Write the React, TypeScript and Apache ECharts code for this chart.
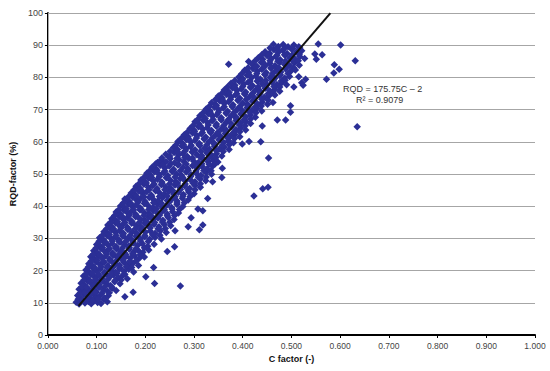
import React, { useEffect, useRef } from "react";
import * as echarts from "echarts";

// [C factor, RQD factor %]
const lowerBand: number[][] = [
  [0.058,10.2],[0.064,9.6],[0.070,10.8],[0.076,9.9],[0.083,10.4],[0.089,9.7],[0.095,10.6],[0.102,10.1],[0.109,9.8],[0.122,10.3],[0.115,11.0],
  [0.061,12.3],[0.067,11.6],[0.073,12.8],[0.080,12.0],[0.087,11.4],[0.094,12.6],[0.100,11.8],[0.108,12.4],[0.116,11.5],[0.124,12.2],
  [0.064,14.2],[0.071,13.6],[0.078,14.7],[0.085,13.9],[0.092,14.4],[0.099,13.5],[0.106,14.8],[0.114,14.0],[0.122,13.7],[0.132,14.5],[0.140,13.8],
  [0.068,16.1],[0.075,15.5],[0.082,16.7],[0.090,15.8],[0.097,16.4],[0.105,15.6],[0.112,16.8],[0.120,16.0],[0.128,15.4],[0.137,16.5],[0.148,15.9],
  [0.073,18.3],[0.080,17.7],[0.088,18.8],[0.096,17.9],[0.103,18.5],[0.111,17.6],[0.119,18.9],[0.127,18.0],[0.135,18.6],[0.144,17.8],[0.153,18.4],[0.163,17.5],
  [0.078,20.2],[0.085,19.6],[0.093,20.7],[0.100,19.9],[0.108,20.5],[0.116,19.4],[0.124,20.8],[0.131,20.0],[0.139,19.5],[0.147,20.6],[0.156,19.8],[0.166,20.4],[0.176,19.6],
  [0.084,22.1],[0.091,21.6],[0.099,22.7],[0.107,21.9],[0.115,22.5],[0.123,21.5],[0.131,22.8],[0.139,22.0],[0.147,21.7],[0.156,22.6],[0.165,21.8],[0.175,22.3],[0.186,21.6],
  [0.088,24.3],[0.095,23.7],[0.103,24.6],[0.111,23.9],[0.119,24.5],[0.127,23.6],[0.135,24.8],[0.143,24.0],[0.152,23.5],[0.160,24.4],[0.169,23.8],[0.178,24.6],[0.188,23.9],[0.198,24.2],
  [0.094,26.2],[0.101,25.6],[0.109,26.8],[0.117,25.9],[0.125,26.5],[0.133,25.5],[0.141,26.7],[0.150,26.0],[0.158,25.4],[0.167,26.6],[0.176,25.8],[0.185,26.3],[0.195,25.7],[0.207,26.4],
  [0.100,28.1],[0.108,27.6],[0.116,28.7],[0.124,27.9],[0.132,28.4],[0.140,27.5],[0.148,28.8],[0.157,28.0],[0.166,27.7],[0.175,28.6],[0.184,27.8],[0.194,28.3],[0.205,27.6],[0.218,28.2],
];

const middleBand: number[][] = [
  [0.106,30.2],[0.114,29.6],[0.122,30.8],[0.130,29.9],[0.138,30.4],[0.146,29.5],[0.154,30.7],[0.163,30.0],[0.172,29.6],[0.181,30.6],[0.190,29.8],[0.199,30.5],[0.209,29.7],[0.220,30.3],[0.233,29.8],
  [0.115,32.1],[0.123,31.5],[0.131,32.7],[0.139,31.8],[0.147,32.4],[0.155,31.6],[0.164,32.8],[0.173,32.0],[0.182,31.7],[0.191,32.6],[0.200,31.9],[0.210,32.3],[0.220,31.6],[0.231,32.4],[0.243,31.8],
  [0.123,34.2],[0.131,33.6],[0.139,34.8],[0.147,33.9],[0.155,34.5],[0.163,33.5],[0.172,34.7],[0.181,34.0],[0.190,33.7],[0.199,34.6],[0.208,33.8],[0.218,34.4],[0.228,33.6],[0.239,34.3],[0.252,33.9],
  [0.131,36.1],[0.139,35.6],[0.147,36.8],[0.155,35.9],[0.163,36.4],[0.171,35.5],[0.180,36.7],[0.189,36.0],[0.198,35.7],[0.207,36.6],[0.216,35.8],[0.226,36.3],[0.236,35.6],[0.247,36.5],[0.259,35.9],
  [0.140,38.2],[0.148,37.6],[0.156,38.7],[0.164,37.9],[0.172,38.5],[0.180,37.5],[0.189,38.8],[0.198,38.0],[0.207,37.7],[0.216,38.6],[0.225,37.8],[0.235,38.4],[0.245,37.6],[0.256,38.3],[0.268,37.9],
  [0.149,40.1],[0.157,39.6],[0.165,40.7],[0.173,39.9],[0.181,40.4],[0.189,39.5],[0.198,40.8],[0.207,40.0],[0.216,39.6],[0.225,40.6],[0.234,39.8],[0.244,40.3],[0.254,39.6],[0.265,40.5],[0.277,39.9],
  [0.158,42.2],[0.166,41.6],[0.174,42.8],[0.182,41.9],[0.190,42.4],[0.199,41.5],[0.208,42.7],[0.217,42.0],[0.226,41.7],[0.235,42.6],[0.245,41.8],[0.255,42.3],[0.265,41.6],[0.276,42.5],[0.288,41.9],
  [0.171,44.1],[0.179,43.6],[0.187,44.7],[0.195,43.9],[0.203,44.5],[0.212,43.5],[0.221,44.8],[0.230,44.0],[0.239,43.7],[0.248,44.6],[0.258,43.8],[0.268,44.3],[0.278,43.6],[0.289,44.4],[0.300,43.9],
  [0.181,46.2],[0.189,45.6],[0.197,46.8],[0.206,45.9],[0.215,46.4],[0.224,45.5],[0.233,46.7],[0.242,46.0],[0.251,45.7],[0.261,46.6],[0.271,45.8],[0.281,46.3],[0.291,45.6],[0.302,46.4],[0.313,45.9],
  [0.191,48.1],[0.199,47.6],[0.207,48.7],[0.216,47.9],[0.225,48.4],[0.234,47.5],[0.243,48.8],[0.252,48.0],[0.262,47.7],[0.272,48.6],[0.282,47.8],[0.292,48.3],[0.302,47.6],[0.313,48.5],[0.324,47.9],
  [0.203,50.2],[0.211,49.6],[0.219,50.7],[0.228,49.9],[0.237,50.4],[0.246,49.5],[0.255,50.8],[0.264,50.0],[0.274,49.6],[0.284,50.6],[0.294,49.8],[0.304,50.3],[0.314,49.6],[0.325,50.5],[0.336,49.9],
  [0.214,52.1],[0.222,51.6],[0.231,52.7],[0.240,51.9],[0.249,52.5],[0.258,51.5],[0.267,52.8],[0.277,52.0],[0.287,51.7],[0.297,52.6],[0.307,51.8],[0.317,52.3],[0.327,51.6],[0.338,52.4],
  [0.225,53.6],[0.233,54.4],[0.242,53.8],[0.251,54.7],[0.260,53.5],[0.269,54.5],[0.279,53.9],[0.289,54.8],[0.299,54.0],[0.309,53.6],[0.319,54.6],[0.329,53.8],[0.339,54.3],[0.349,53.7],
  [0.242,56.1],[0.250,55.6],[0.259,56.7],[0.268,55.9],[0.277,56.4],[0.286,55.5],[0.296,56.8],[0.306,56.0],[0.316,55.7],[0.326,56.6],[0.336,55.8],[0.346,56.3],[0.357,55.6],
  [0.258,58.2],[0.266,57.6],[0.275,58.7],[0.284,57.9],[0.293,58.5],[0.302,57.5],[0.312,58.8],[0.322,58.0],[0.332,57.7],[0.342,58.6],[0.352,57.8],[0.362,58.3],[0.372,57.6],
];

const upperBand: number[][] = [
  [0.267,60.1],[0.275,59.6],[0.284,60.7],[0.293,59.9],[0.302,60.4],[0.311,59.5],[0.321,60.8],[0.331,60.0],[0.341,59.6],[0.351,60.6],[0.361,59.8],[0.371,60.3],[0.381,59.7],
  [0.280,62.2],[0.288,61.6],[0.297,62.7],[0.306,61.9],[0.315,62.5],[0.324,61.5],[0.334,62.8],[0.344,62.0],[0.354,61.7],[0.364,62.6],[0.374,61.8],[0.384,62.3],[0.394,61.6],
  [0.292,64.1],[0.300,63.6],[0.309,64.7],[0.318,63.9],[0.327,64.4],[0.336,63.5],[0.346,64.8],[0.356,64.0],[0.366,63.7],[0.376,64.6],[0.386,63.8],[0.396,64.3],[0.406,63.7],
  [0.302,66.2],[0.310,65.6],[0.319,66.7],[0.328,65.9],[0.337,66.5],[0.346,65.5],[0.356,66.8],[0.366,66.0],[0.376,65.7],[0.386,66.6],[0.396,65.8],[0.406,66.3],[0.416,65.7],
  [0.312,68.1],[0.320,67.6],[0.329,68.7],[0.338,67.9],[0.347,68.4],[0.356,67.5],[0.366,68.8],[0.376,68.0],[0.386,67.7],[0.396,68.6],[0.406,67.8],[0.416,68.3],[0.426,67.6],
  [0.325,70.2],[0.333,69.6],[0.342,70.7],[0.351,69.9],[0.360,70.5],[0.369,69.5],[0.379,70.8],[0.389,70.0],[0.399,69.7],[0.409,70.6],[0.419,69.8],[0.429,70.3],[0.439,69.6],
  [0.336,72.1],[0.344,71.6],[0.353,72.7],[0.362,71.9],[0.371,72.4],[0.380,71.5],[0.390,72.8],[0.400,72.0],[0.410,71.7],[0.420,72.6],[0.430,71.8],[0.440,72.3],[0.451,71.7],
  [0.350,74.2],[0.358,73.6],[0.367,74.7],[0.376,73.9],[0.385,74.5],[0.394,73.5],[0.404,74.8],[0.414,74.0],[0.424,73.7],[0.434,74.6],[0.444,73.8],[0.454,74.3],
  [0.362,76.1],[0.370,75.6],[0.379,76.7],[0.388,75.9],[0.397,76.4],[0.406,75.5],[0.416,76.8],[0.426,76.0],[0.436,75.7],[0.446,76.6],[0.456,75.8],[0.466,76.3],[0.476,75.7],
  [0.376,78.2],[0.384,77.6],[0.393,78.7],[0.402,77.9],[0.411,78.5],[0.420,77.5],[0.430,78.8],[0.440,78.0],[0.450,77.7],[0.460,78.6],[0.470,77.8],[0.480,78.3],[0.490,77.7],
  [0.392,80.1],[0.400,79.6],[0.409,80.7],[0.418,79.9],[0.427,80.4],[0.436,79.5],[0.446,80.8],[0.456,80.0],[0.466,79.7],[0.476,80.6],[0.486,79.8],[0.496,80.3],
  [0.404,82.2],[0.412,81.6],[0.421,82.7],[0.430,81.9],[0.439,82.5],[0.448,81.5],[0.458,82.8],[0.468,82.0],[0.478,81.7],[0.488,82.6],[0.498,81.8],[0.508,82.3],
  [0.420,84.0],[0.429,83.5],[0.438,84.6],[0.447,83.8],[0.456,84.4],[0.466,83.6],[0.476,84.7],[0.486,84.0],[0.496,83.7],[0.506,84.5],[0.516,83.8],
  [0.432,86.1],[0.441,85.6],[0.450,86.7],[0.459,85.9],[0.468,86.4],[0.477,85.5],[0.487,86.8],[0.497,86.0],[0.507,85.7],[0.517,86.5],[0.527,85.9],
  [0.446,88.0],[0.455,87.5],[0.464,88.6],[0.473,87.8],[0.482,88.4],[0.491,87.4],[0.501,88.7],[0.511,87.9],[0.521,88.3],
  [0.463,90.3],[0.473,89.6],[0.483,90.2],[0.493,89.5],[0.505,90.1],[0.515,89.5],
];

// points lying between the rows above, in the dense core of the cloud
const coreFill: number[][] = [
  [0.062,11.1],[0.071,10.9],[0.081,11.3],[0.092,10.8],[0.104,11.2],
  [0.066,13.0],[0.076,13.3],[0.088,12.9],[0.098,13.2],[0.111,13.0],[0.126,13.1],
  [0.070,15.0],[0.080,14.8],[0.093,15.2],[0.104,14.9],[0.117,15.1],[0.131,14.9],
  [0.074,17.1],[0.086,16.9],[0.098,17.2],[0.109,17.0],[0.123,17.2],[0.138,16.9],[0.150,17.1],
  [0.079,19.0],[0.091,19.2],[0.104,18.9],[0.117,19.1],[0.130,19.0],[0.142,19.2],[0.158,18.9],
  [0.083,21.1],[0.096,20.9],[0.109,21.2],[0.121,21.0],[0.134,21.1],[0.148,20.9],[0.161,21.2],[0.172,21.0],
  [0.089,23.0],[0.101,23.2],[0.114,22.9],[0.127,23.1],[0.140,23.0],[0.154,23.2],[0.168,22.9],[0.182,23.1],
  [0.093,25.1],[0.106,24.9],[0.120,25.2],[0.133,25.0],[0.146,25.1],[0.160,24.9],[0.174,25.2],[0.190,25.0],
  [0.099,27.0],[0.112,27.2],[0.126,26.9],[0.139,27.1],[0.153,27.0],[0.167,27.2],[0.181,26.9],[0.198,27.1],
  [0.105,29.1],[0.118,28.9],[0.132,29.2],[0.146,29.0],[0.160,29.1],[0.175,28.9],[0.190,29.2],[0.206,29.0],
  [0.112,31.0],[0.126,31.2],[0.140,30.9],[0.154,31.1],[0.169,31.0],[0.184,31.2],[0.199,30.9],[0.215,31.1],[0.230,31.0],
  [0.121,33.1],[0.135,32.9],[0.150,33.2],[0.165,33.0],[0.180,33.1],[0.195,32.9],[0.210,33.2],[0.226,33.0],[0.241,33.1],
  [0.129,35.0],[0.143,35.2],[0.158,34.9],[0.173,35.1],[0.188,35.0],[0.203,35.2],[0.219,34.9],[0.235,35.1],[0.250,35.0],
  [0.137,37.1],[0.152,36.9],[0.167,37.2],[0.182,37.0],[0.197,37.1],[0.213,36.9],[0.229,37.2],[0.245,37.0],[0.260,37.1],
  [0.146,39.0],[0.161,39.2],[0.176,38.9],[0.191,39.1],[0.207,39.0],[0.223,39.2],[0.239,38.9],[0.255,39.1],[0.270,39.0],
  [0.155,41.1],[0.170,40.9],[0.185,41.2],[0.201,41.0],[0.217,41.1],[0.233,40.9],[0.249,41.2],[0.265,41.0],[0.280,41.1],
  [0.166,43.0],[0.181,43.2],[0.197,42.9],[0.213,43.1],[0.229,43.0],[0.245,43.2],[0.261,42.9],[0.277,43.1],[0.292,43.0],
  [0.177,45.1],[0.192,44.9],[0.208,45.2],[0.224,45.0],[0.240,45.1],[0.256,44.9],[0.272,45.2],[0.288,45.0],[0.302,45.1],
  [0.187,47.0],[0.202,47.2],[0.218,46.9],[0.234,47.1],[0.250,47.0],[0.266,47.2],[0.282,46.9],[0.298,47.1],[0.313,47.0],
  [0.198,49.1],[0.213,48.9],[0.229,49.2],[0.245,49.0],[0.261,49.1],[0.277,48.9],[0.293,49.2],[0.309,49.0],[0.325,49.1],
  [0.209,51.0],[0.224,51.2],[0.240,50.9],[0.256,51.1],[0.272,51.0],[0.288,51.2],[0.304,50.9],[0.320,51.1],[0.335,51.0],
  [0.221,53.1],[0.236,52.9],[0.252,53.2],[0.268,53.0],[0.284,53.1],[0.300,52.9],[0.316,53.2],[0.331,53.0],[0.343,53.1],
  [0.234,55.0],[0.249,55.2],[0.265,54.9],[0.281,55.1],[0.297,55.0],[0.313,55.2],[0.329,54.9],[0.345,55.1],
  [0.251,57.1],[0.266,56.9],[0.282,57.2],[0.298,57.0],[0.314,57.1],[0.330,56.9],[0.346,57.2],[0.360,57.0],
  [0.263,59.0],[0.278,59.2],[0.294,58.9],[0.310,59.1],[0.326,59.0],[0.342,59.2],[0.358,58.9],[0.372,59.1],
  [0.274,61.1],[0.289,60.9],[0.305,61.2],[0.321,61.0],[0.337,61.1],[0.353,60.9],[0.369,61.2],[0.383,61.0],
  [0.286,63.0],[0.301,63.2],[0.317,62.9],[0.333,63.1],[0.349,63.0],[0.365,63.2],[0.381,62.9],[0.394,63.1],
  [0.298,65.1],[0.313,64.9],[0.329,65.2],[0.345,65.0],[0.361,65.1],[0.377,64.9],[0.393,65.2],[0.405,65.0],
  [0.308,67.0],[0.323,67.2],[0.339,66.9],[0.355,67.1],[0.371,67.0],[0.387,67.2],[0.403,66.9],[0.416,67.1],
  [0.319,69.1],[0.334,68.9],[0.350,69.2],[0.366,69.0],[0.382,69.1],[0.398,68.9],[0.414,69.2],[0.427,69.0],
  [0.331,71.0],[0.346,71.2],[0.362,70.9],[0.378,71.1],[0.394,71.0],[0.410,71.2],[0.426,70.9],[0.438,71.1],
  [0.344,73.1],[0.359,72.9],[0.375,73.2],[0.391,73.0],[0.407,73.1],[0.423,72.9],[0.439,73.2],[0.452,73.0],
  [0.357,75.0],[0.372,75.2],[0.388,74.9],[0.404,75.1],[0.420,75.0],[0.436,75.2],[0.452,74.9],[0.463,75.1],
  [0.369,77.1],[0.384,76.9],[0.400,77.2],[0.416,77.0],[0.432,77.1],[0.448,76.9],[0.464,77.2],[0.476,77.0],
  [0.384,79.0],[0.399,79.2],[0.415,78.9],[0.431,79.1],[0.447,79.0],[0.463,79.2],[0.479,78.9],[0.487,79.1],
  [0.398,81.1],[0.413,80.9],[0.429,81.2],[0.445,81.0],[0.461,81.1],[0.477,80.9],[0.493,81.2],
  [0.411,83.0],[0.426,83.2],[0.442,82.9],[0.458,83.1],[0.474,83.0],[0.490,83.2],[0.505,82.9],
  [0.425,85.1],[0.440,84.9],[0.456,85.2],[0.472,85.0],[0.488,85.1],[0.504,84.9],[0.514,85.2],
  [0.439,87.0],[0.454,87.2],[0.470,86.9],[0.486,87.1],[0.502,87.0],[0.516,87.2],
  [0.456,89.1],[0.471,88.9],[0.487,89.2],[0.503,89.0],[0.517,89.1],
];

const outliers: number[][] = [
  [0.158,11.9],[0.175,13.3],[0.219,16.0],[0.272,15.2],[0.201,18.1],[0.217,21.0],
  [0.245,25.9],[0.260,27.4],[0.261,32.4],[0.311,32.7],[0.288,33.6],[0.318,34.2],
  [0.294,36.4],[0.308,39.1],[0.318,38.6],[0.328,42.4],[0.423,43.2],[0.338,47.6],
  [0.441,45.4],[0.452,45.9],[0.357,48.9],[0.358,51.8],[0.453,55.0],[0.399,59.3],
  [0.413,60.1],[0.437,60.0],[0.440,64.9],[0.635,64.7],[0.471,66.8],[0.488,66.8],
  [0.498,69.2],[0.498,71.2],[0.462,72.2],[0.466,74.5],[0.505,77.0],[0.524,77.6],
  [0.521,78.3],[0.515,80.2],[0.529,79.4],[0.572,79.4],[0.587,81.4],[0.598,82.5],
  [0.371,84.1],[0.412,84.9],[0.588,83.9],[0.551,85.6],[0.631,85.2],[0.548,87.3],
  [0.563,87.0],[0.555,90.4],[0.601,90.1],
];

const trendC = [0.063, 0.58];
const slope = 175.75;
const intercept = -2;

const xTickLabels = ["0.000","0.100","0.200","0.300","0.400","0.500","0.600","0.700","0.800","0.900","1.000"];

export default function App() {
  const ref = useRef<HTMLDivElement>(null);
  useEffect(() => {
    if (!ref.current) return;
    const chart = echarts.init(ref.current, null, { renderer: "svg" });
    const font = "'Liberation Sans', Arial, sans-serif";
    const allPoints = [...lowerBand, ...middleBand, ...upperBand, ...coreFill, ...outliers];
    const trend = trendC.map((c) => [c, slope * c + intercept]);
    chart.setOption({
      animation: false,
      backgroundColor: "#ffffff",
      grid: { left: 36, right: 15, top: 13, bottom: 36, containLabel: false },
      xAxis: {
        type: "value",
        min: 0,
        max: 1,
        interval: 0.1,
        name: "C factor (-)",
        nameLocation: "middle",
        nameGap: 18,
        nameTextStyle: { fontFamily: font, fontSize: 9, fontWeight: "bold", color: "#111", verticalAlign: "top" },
        axisLine: { show: true, onZero: false, lineStyle: { color: "#000", width: 2 } },
        axisTick: { show: true, length: 3, lineStyle: { color: "#000", width: 1 } },
        axisLabel: {
          fontFamily: font,
          fontSize: 8.5,
          color: "#444",
          margin: 6,
          formatter: (v: number) => xTickLabels[Math.round(v * 10)] ?? v.toFixed(3),
        },
        splitLine: { show: false },
      },
      yAxis: [
        {
          type: "value",
          min: 0,
          max: 100,
          interval: 10,
          name: "RQD-factor (%)",
          nameLocation: "middle",
          nameGap: 21,
          nameRotate: 90,
          nameTextStyle: { fontFamily: font, fontSize: 9, fontWeight: "bold", color: "#111" },
          axisLine: { show: true, onZero: false, lineStyle: { color: "#000", width: 2 } },
          axisTick: { show: true, length: 3, lineStyle: { color: "#000", width: 1 } },
          axisLabel: { fontFamily: font, fontSize: 9, color: "#444", margin: 5 },
          splitLine: { show: true, lineStyle: { color: "#a6a6a6", width: 1 } },
        },
        {
          type: "value",
          min: 0,
          max: 100,
          interval: 10,
          position: "right",
          axisLine: { show: true, lineStyle: { color: "#a6a6a6", width: 1 } },
          axisTick: { show: false },
          axisLabel: { show: false },
          splitLine: { show: false },
        },
      ],
      series: [
        {
          type: "scatter",
          data: allPoints,
          symbol: "diamond",
          symbolSize: 7.5,
          itemStyle: { color: "#2b2f96", opacity: 1 },
          z: 2,
        },
        {
          type: "line",
          data: trend,
          symbol: "none",
          lineStyle: { color: "#111", width: 2 },
          z: 3,
        },
      ],
      graphic: [
        {
          type: "text",
          left: 343,
          top: 84,
          style: { text: "RQD = 175.75C – 2", fontFamily: font, fontSize: 9, fill: "#333" },
        },
        {
          type: "text",
          left: 356,
          top: 95,
          style: { text: "R² = 0.9079", fontFamily: font, fontSize: 9, fill: "#333" },
        },
      ],
    });
    return () => chart.dispose();
  }, []);
  return <div ref={ref} style={{ width: 550, height: 371, position: "absolute", left: 0, top: 0 }} />;
}
